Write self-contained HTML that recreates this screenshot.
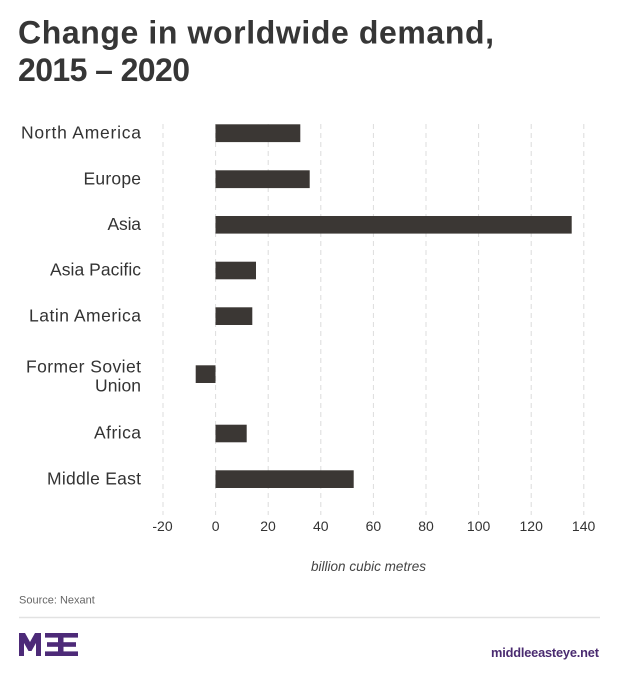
<!DOCTYPE html>
<html>
<head>
<meta charset="utf-8">
<style>
  html, body { margin: 0; padding: 0; background: #ffffff; }
  body { width: 620px; height: 674px; overflow: hidden; }
  svg { display: block; }
  text { font-family: "Liberation Sans", "DejaVu Sans", sans-serif; }
</style>
</head>
<body>
<svg width="620" height="674" viewBox="0 0 620 674" xmlns="http://www.w3.org/2000/svg">
  <rect x="0" y="0" width="620" height="674" fill="#ffffff"/>

  <!-- Title -->
  <text x="18" y="43.5" font-size="32" font-weight="bold" fill="#363636" textLength="476" lengthAdjust="spacing">Change in worldwide demand,</text>
  <text x="18" y="81" font-size="32" font-weight="bold" fill="#363636" textLength="172" lengthAdjust="spacing">2015 – 2020</text>

  <!-- Gridlines -->
  <g stroke="#dcdcdc" stroke-width="1" stroke-dasharray="5 4">
    <line x1="163" y1="124" x2="163" y2="515"/>
    <line x1="215.6" y1="124" x2="215.6" y2="515"/>
    <line x1="268.2" y1="124" x2="268.2" y2="515"/>
    <line x1="320.8" y1="124" x2="320.8" y2="515"/>
    <line x1="373.4" y1="124" x2="373.4" y2="515"/>
    <line x1="426" y1="124" x2="426" y2="515"/>
    <line x1="478.6" y1="124" x2="478.6" y2="515"/>
    <line x1="531.2" y1="124" x2="531.2" y2="515"/>
    <line x1="583.8" y1="124" x2="583.8" y2="515"/>
  </g>

  <!-- Bars -->
  <g fill="#3b3734">
    <rect x="215.5" y="124.3" width="84.8" height="17.8"/>
    <rect x="215.5" y="170.3" width="94.2" height="17.8"/>
    <rect x="215.5" y="216" width="356.2" height="17.6"/>
    <rect x="215.5" y="261.7" width="40.5" height="17.6"/>
    <rect x="215.5" y="307.3" width="36.8" height="17.7"/>
    <rect x="195.7" y="365.3" width="19.8" height="17.7"/>
    <rect x="215.5" y="424.7" width="31.2" height="17.6"/>
    <rect x="215.5" y="470.3" width="138.2" height="17.7"/>
  </g>

  <!-- Category labels -->
  <g font-size="17.5" fill="#333333" text-anchor="end">
    <text x="141" y="138.5" textLength="120" lengthAdjust="spacing">North America</text>
    <text x="141" y="184.3" textLength="57.5" lengthAdjust="spacing">Europe</text>
    <text x="141" y="229.8" textLength="33.5" lengthAdjust="spacing">Asia</text>
    <text x="141" y="275.5" textLength="91" lengthAdjust="spacing">Asia Pacific</text>
    <text x="141" y="321.6" textLength="112" lengthAdjust="spacing">Latin America</text>
    <text x="141" y="372.3" textLength="115" lengthAdjust="spacing">Former Soviet</text>
    <text x="141" y="391.7" textLength="46" lengthAdjust="spacing">Union</text>
    <text x="141" y="438.6" textLength="47" lengthAdjust="spacing">Africa</text>
    <text x="141" y="484.3" textLength="94" lengthAdjust="spacing">Middle East</text>
  </g>

  <!-- Tick labels -->
  <g font-size="14" fill="#333333" text-anchor="middle">
    <text x="162.5" y="531">-20</text>
    <text x="215.6" y="531">0</text>
    <text x="268" y="531">20</text>
    <text x="320.8" y="531">40</text>
    <text x="373.4" y="531">60</text>
    <text x="426" y="531">80</text>
    <text x="478.6" y="531">100</text>
    <text x="531.2" y="531">120</text>
    <text x="583.6" y="531">140</text>
  </g>

  <!-- Axis title -->
  <text x="368.5" y="571" font-size="13.5" font-style="italic" fill="#444444" text-anchor="middle" textLength="115" lengthAdjust="spacing">billion cubic metres</text>

  <!-- Source -->
  <text x="19" y="603.5" font-size="11" fill="#666666">Source: Nexant</text>

  <!-- Divider -->
  <line x1="19" y1="617.5" x2="600" y2="617.5" stroke="#e2e2e2" stroke-width="1.5"/>

  <!-- Logo -->
  <g fill="#4d2a78">
    <polygon points="19,656 19,633 25,633 30,642 35,633 41,633 41,656 36,656 36,643 31.5,651 28.5,651 24,643 24,656"/>
    <rect x="45" y="633" width="14" height="4.6"/>
    <rect x="47" y="642.2" width="12" height="4.6"/>
    <rect x="45" y="651.4" width="14" height="4.6"/>
    <rect x="58" y="633" width="5.5" height="23"/>
    <rect x="63" y="633" width="15" height="4.6"/>
    <rect x="63" y="642.2" width="13" height="4.6"/>
    <rect x="63" y="651.4" width="15" height="4.6"/>
  </g>

  <!-- URL -->
  <text x="599" y="657" font-size="12.8" font-weight="bold" fill="#4a2b70" text-anchor="end" textLength="108" lengthAdjust="spacing">middleeasteye.net</text>
</svg>
</body>
</html>
